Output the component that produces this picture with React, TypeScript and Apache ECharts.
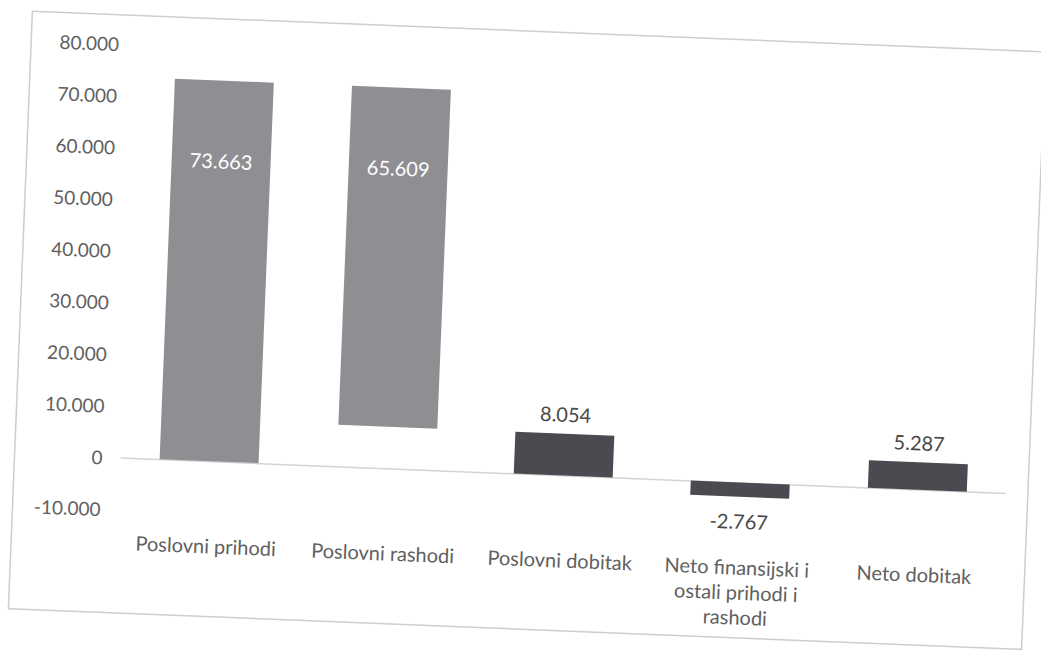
import React, { useEffect, useRef } from "react";
import * as echarts from "echarts";

const categories = [
  "Poslovni prihodi",
  "Poslovni rashodi",
  "Poslovni dobitak",
  "Neto finansijski i\nostali prihodi i\nrashodi",
  "Neto dobitak",
];
const values = [73663, 65609, 8054, -2767, 5287];
const offsets = [0, 8054, 0, 0, 0];
const barColors = ["#8f8f93", "#8f8f93", "#4a4a50", "#4a4a50", "#4a4a50"];
const labelInside = [true, true, false, false, false];
const yMin = -10000;
const yMax = 80000;
const yStep = 10000;

const FONT = "Lato";

function fmt(v: number): string {
  const neg = v < 0;
  const s = Math.abs(Math.round(v)).toString();
  const withDots = s.replace(/\B(?=(\d{3})+(?!\d))/g, ".");
  return (neg ? "-" : "") + withDots;
}

export default function App() {
  const ref = useRef<HTMLDivElement>(null);

  useEffect(() => {
    if (!ref.current) return;
    const chart = echarts.init(ref.current, undefined, { renderer: "svg" });
    const option: any = {
      animation: false,
      backgroundColor: "#ffffff",
      textStyle: { fontFamily: FONT },
      grid: { left: 126, right: 29, top: 60, bottom: 134.7, containLabel: false },
      graphic: [
        {
          type: "rect",
          shape: { x: 20, y: 31, width: 1014, height: 598 },
          style: { fill: "none", stroke: "#cdcdcd", lineWidth: 1.5 },
          silent: true,
          z: 0,
        },
      ],
      xAxis: {
        type: "category",
        data: categories,
        axisLine: { show: false, onZero: false },
        axisTick: { show: false },
        axisLabel: {
          interval: 0,
          margin: 20,
          color: "#606060",
          fontFamily: FONT,
          fontSize: 20,
          lineHeight: 25,
        },
        splitLine: { show: false },
      },
      yAxis: {
        type: "value",
        min: yMin,
        max: yMax,
        interval: yStep,
        axisLine: { show: false },
        axisTick: { show: false },
        splitLine: { show: false },
        axisLabel: {
          margin: 18,
          color: "#606060",
          fontFamily: FONT,
          fontSize: 19,
          formatter: (v: number) => fmt(v),
        },
      },
      series: [
        {
          type: "bar",
          stack: "w",
          data: offsets,
          barWidth: 99,
          silent: true,
          itemStyle: { color: "rgba(0,0,0,0)" },
          label: { show: false },
        },
        {
          type: "bar",
          stack: "w",
          barWidth: 99,
          data: values.map((v, i) => ({
            value: v,
            itemStyle: { color: barColors[i] },
            label: labelInside[i]
              ? { show: true, position: "insideTop", distance: 70, color: "#ffffff" }
              : {
                  show: true,
                  position: v < 0 ? "bottom" : "top",
                  distance: v < 0 ? 14 : 10,
                  color: "#484848",
                },
          })),
          label: {
            show: true,
            fontFamily: FONT,
            fontSize: 20,
            formatter: (p: any) => fmt(p.value),
          },
          markLine: {
            silent: true,
            symbol: "none",
            label: { show: false },
            lineStyle: { color: "#d4d4d4", type: "solid", width: 1.5 },
            data: [{ yAxis: 0 }],
            z: 1,
          },
          z: 2,
        },
      ],
    };
    chart.setOption(option);
    return () => chart.dispose();
  }, []);

  return (
    <div
      style={{
        position: "fixed",
        left: 0,
        top: 0,
        width: 1041,
        height: 660,
        overflow: "hidden",
        background: "#ffffff",
      }}
    >
      <div
        ref={ref}
        style={{
          width: 1041,
          height: 660,
          transform: "rotate(2.3deg)",
          transformOrigin: "520.5px 330px",
        }}
      />
    </div>
  );
}
